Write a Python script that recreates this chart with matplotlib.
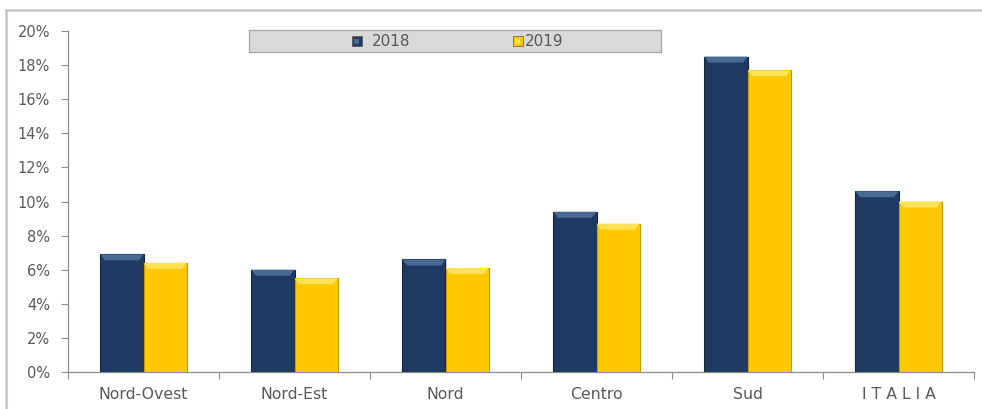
import numpy as np
import matplotlib.pyplot as plt
from matplotlib.patches import Polygon, Rectangle
from matplotlib.ticker import FuncFormatter, FixedLocator

# --- dati: tasso di disoccupazione per ripartizione ---
categorie = ['Nord-Ovest', 'Nord-Est', 'Nord', 'Centro', 'Sud', 'I T A L I A']
anni = ['2018', '2019']
val_2018 = [6.9, 6.0, 6.6, 9.4, 18.5, 10.6]
val_2019 = [6.4, 5.5, 6.1, 8.7, 17.7, 10.0]

BLU = '#1f3a62'
BLU_CHIARO = '#4a6a96'
BLU_BORDO = '#14263f'
GIALLO = '#ffc800'
GIALLO_CHIARO = '#ffe155'
GIALLO_BORDO = '#c99a00'
GRIGIO_TESTO = '#595959'
GRIGIO_ASSE = '#8c8c8c'

plt.rcParams['font.family'] = ['DejaVu Sans']

fig = plt.figure(figsize=(9.82, 4.09), dpi=100)
W, H = 982, 409
ax = fig.add_axes([68 / W, (H - 372) / H, (974 - 68) / W, (372 - 31) / H])

# cornice grigia del riquadro
fig.patches.append(Rectangle((6 / W, -0.1), 1.2, (H - 9.5) / H + 0.1,
                             transform=fig.transFigure, fill=False,
                             edgecolor='#c3c3cb', linewidth=1.8))

x = np.arange(len(categorie))
w = 0.285


def barre_smussate(xs, vals, colore, chiaro, bordo):
    ax.bar(xs, vals, width=w, color=colore, edgecolor=bordo, linewidth=0.8, zorder=3)
    # ombra leggera a destra
    ax.bar(xs + 0.012, vals, width=w, color='#b0b0b0', alpha=0.5, zorder=2, linewidth=0)
    for xc, v in zip(xs, vals):
        h = 0.35
        dx = 0.03
        top = Polygon([(xc - w / 2, v), (xc + w / 2, v),
                       (xc + w / 2 - dx, v - h), (xc - w / 2 + dx, v - h)],
                      closed=True, facecolor=chiaro, edgecolor='none', zorder=4)
        ax.add_patch(top)


barre_smussate(x - w / 2, np.array(val_2018), BLU, BLU_CHIARO, BLU_BORDO)
barre_smussate(x + w / 2, np.array(val_2019), GIALLO, GIALLO_CHIARO, GIALLO_BORDO)

ax.set_xlim(-0.5, len(categorie) - 0.5)
ax.set_ylim(0, 20)
ax.set_yticks(np.arange(0, 21, 2))
ax.yaxis.set_major_formatter(FuncFormatter(lambda v, _: f'{v:.0f}%'))

# tacche sui confini di categoria, etichette al centro
ax.xaxis.set_major_locator(FixedLocator(np.arange(-0.5, len(categorie), 1.0)))
ax.xaxis.set_major_formatter(FuncFormatter(lambda v, _: ''))
ax.xaxis.set_minor_locator(FixedLocator(x))
ax.set_xticklabels(categorie, minor=True)
ax.tick_params(axis='x', which='minor', length=0, pad=11, labelsize=11.3, labelcolor=GRIGIO_TESTO)
ax.tick_params(axis='x', which='major', length=5, color=GRIGIO_ASSE, direction='out')
ax.tick_params(axis='y', length=5, color=GRIGIO_ASSE, labelsize=10.5,
               labelcolor=GRIGIO_TESTO, pad=8)

for lato in ['top', 'right']:
    ax.spines[lato].set_visible(False)
for lato in ['left', 'bottom']:
    ax.spines[lato].set_color(GRIGIO_ASSE)
    ax.spines[lato].set_linewidth(0.9)

# legenda in riquadro grigio
leg_ax = fig.add_axes([249 / W, (H - 52) / H, (661 - 249) / W, 22 / H])
leg_ax.set_xlim(0, 412)
leg_ax.set_ylim(0, 22)
leg_ax.set_xticks([])
leg_ax.set_yticks([])
leg_ax.set_facecolor('#d9d9d9')
for s in leg_ax.spines.values():
    s.set_color('#a6a6a6')
    s.set_linewidth(0.9)
voci = [(103, BLU, BLU_CHIARO, anni[0], 123), (264, GIALLO, GIALLO_CHIARO, anni[1], 276)]
for xl, c, cc, etichetta, xt in voci:
    leg_ax.add_patch(Rectangle((xl, 6), 10, 10, facecolor=c, edgecolor='#555555', linewidth=0.5))
    leg_ax.add_patch(Rectangle((xl + 2.5, 8.5), 5, 5, facecolor=cc, edgecolor='none'))
    leg_ax.text(xt, 11, etichetta, va='center', ha='left', fontsize=11, color=GRIGIO_TESTO)

fig.savefig('out.png', dpi=100)
